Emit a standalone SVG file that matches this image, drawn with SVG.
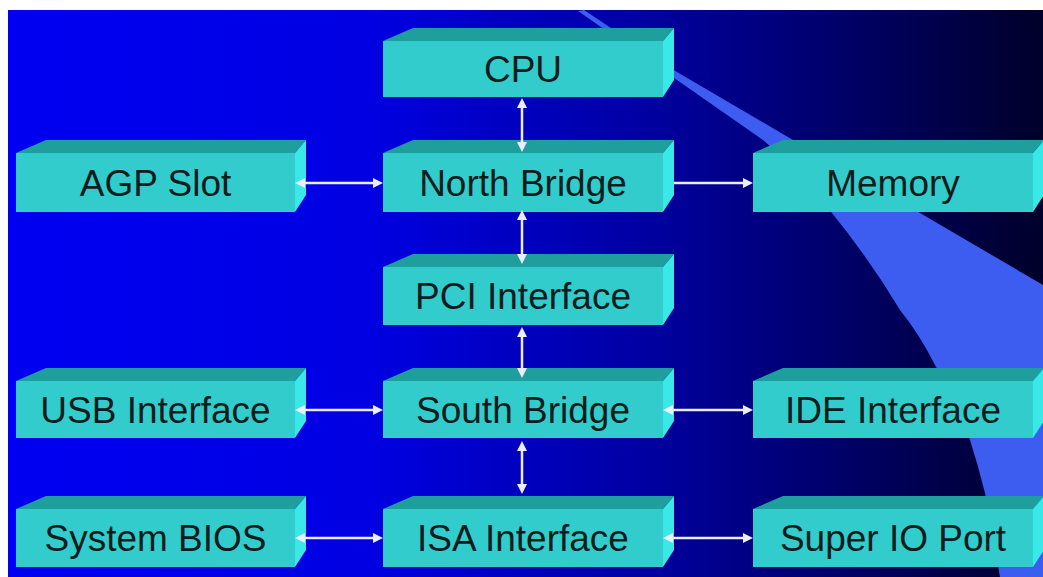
<svg xmlns="http://www.w3.org/2000/svg" width="1043" height="577" viewBox="0 0 1043 577">
<defs>
<linearGradient id="bg" x1="0" y1="0" x2="1" y2="0">
<stop offset="0" stop-color="#0000f2"/>
<stop offset="0.35" stop-color="#0000e2"/>
<stop offset="0.6" stop-color="#0000a6"/>
<stop offset="0.8" stop-color="#00006a"/>
<stop offset="1" stop-color="#00002a"/>
</linearGradient>
<marker id="ah" viewBox="0 0 10 10" refX="3" refY="5" markerWidth="10" markerHeight="10" markerUnits="userSpaceOnUse" orient="auto-start-reverse">
<path d="M0,0 L10,5 L0,10 Z" fill="#ececff"/>
</marker>
<style>
.front{fill:#33cccc}
.top{fill:#1f9e9e}
.side{fill:#3ae8e8}
.lbl{font-family:"Liberation Sans",Arial,sans-serif;font-size:37px;fill:#0b1c1c;text-anchor:middle}
.con{stroke:#ececff;stroke-width:2.5;fill:none}
</style>
</defs>
<rect x="0" y="0" width="1043" height="577" fill="#ffffff"/>
<rect x="8" y="10" width="1035" height="567" fill="url(#bg)"/>
<path d="M584,10 L677,72 L793,140 L920,213 L1043,285 L1043,577 L1000,577 Q992,530 985,493 Q978,465 970,440 Q955,400 935,365 Q920,335 900,310 Q870,260 832,213 Q800,170 763,140 L677,80 L578,11 Z" fill="#3d5df0"/>

<g id="cpu">
<polygon class="top" points="383,41 413,28 674,28 663,41"/>
<polygon class="side" points="663,41 674,28 674,80 663,97"/>
<rect class="front" x="383" y="41" width="280" height="56"/>
<text class="lbl" x="523" y="82">CPU</text>
</g>
<g id="agp">
<polygon class="top" points="16,153 46,140 306,140 295,153"/>
<polygon class="side" points="295,153 306,140 306,195 295,212"/>
<rect class="front" x="16" y="153" width="279" height="59"/>
<text class="lbl" x="155.5" y="195.5">AGP Slot</text>
</g>
<g id="northbridge">
<polygon class="top" points="383,153 413,140 674,140 663,153"/>
<polygon class="side" points="663,153 674,140 674,195 663,212"/>
<rect class="front" x="383" y="153" width="280" height="59"/>
<text class="lbl" x="523" y="195.5">North Bridge</text>
</g>
<g id="memory">
<polygon class="top" points="753,153 783,140 1044,140 1033,153"/>
<polygon class="side" points="1033,153 1044,140 1044,195 1033,212"/>
<rect class="front" x="753" y="153" width="280" height="59"/>
<text class="lbl" x="893" y="195.5">Memory</text>
</g>
<g id="pci">
<polygon class="top" points="383,267 413,254 674,254 663,267"/>
<polygon class="side" points="663,267 674,254 674,308 663,325"/>
<rect class="front" x="383" y="267" width="280" height="58"/>
<text class="lbl" x="523" y="309">PCI Interface</text>
</g>
<g id="usb">
<polygon class="top" points="16,381 46,368 306,368 295,381"/>
<polygon class="side" points="295,381 306,368 306,421 295,438"/>
<rect class="front" x="16" y="381" width="279" height="57"/>
<text class="lbl" x="155.5" y="422.5">USB Interface</text>
</g>
<g id="southbridge">
<polygon class="top" points="383,381 413,368 674,368 663,381"/>
<polygon class="side" points="663,381 674,368 674,421 663,438"/>
<rect class="front" x="383" y="381" width="280" height="57"/>
<text class="lbl" x="523" y="422.5">South Bridge</text>
</g>
<g id="ide">
<polygon class="top" points="753,381 783,368 1044,368 1033,381"/>
<polygon class="side" points="1033,381 1044,368 1044,421 1033,438"/>
<rect class="front" x="753" y="381" width="280" height="57"/>
<text class="lbl" x="893" y="422.5">IDE Interface</text>
</g>
<g id="bios">
<polygon class="top" points="16,509 46,496 306,496 295,509"/>
<polygon class="side" points="295,509 306,496 306,550 295,567"/>
<rect class="front" x="16" y="509" width="279" height="58"/>
<text class="lbl" x="155.5" y="551">System BIOS</text>
</g>
<g id="isa">
<polygon class="top" points="383,509 413,496 674,496 663,509"/>
<polygon class="side" points="663,509 674,496 674,550 663,567"/>
<rect class="front" x="383" y="509" width="280" height="58"/>
<text class="lbl" x="523" y="551">ISA Interface</text>
</g>
<g id="superio">
<polygon class="top" points="753,509 783,496 1044,496 1033,509"/>
<polygon class="side" points="1033,509 1044,496 1044,550 1033,567"/>
<rect class="front" x="753" y="509" width="280" height="58"/>
<text class="lbl" x="893" y="551">Super IO Port</text>
</g>

<g id="connectors">
<line class="con" x1="302" y1="183" x2="376" y2="183" marker-start="url(#ah)" marker-end="url(#ah)"/>
<line class="con" x1="674" y1="183" x2="746" y2="183" marker-end="url(#ah)"/>
<line class="con" x1="522" y1="105" x2="522" y2="145" marker-start="url(#ah)" marker-end="url(#ah)"/>
<line class="con" x1="522" y1="217" x2="522" y2="257" marker-start="url(#ah)" marker-end="url(#ah)"/>
<line class="con" x1="522" y1="334" x2="522" y2="371" marker-start="url(#ah)" marker-end="url(#ah)"/>
<line class="con" x1="522" y1="448" x2="522" y2="487" marker-start="url(#ah)" marker-end="url(#ah)"/>
<line class="con" x1="302" y1="410" x2="376" y2="410" marker-start="url(#ah)" marker-end="url(#ah)"/>
<line class="con" x1="670" y1="410" x2="746" y2="410" marker-start="url(#ah)" marker-end="url(#ah)"/>
<line class="con" x1="302" y1="538" x2="376" y2="538" marker-start="url(#ah)" marker-end="url(#ah)"/>
<line class="con" x1="670" y1="538" x2="746" y2="538" marker-start="url(#ah)" marker-end="url(#ah)"/>
</g>
</svg>
